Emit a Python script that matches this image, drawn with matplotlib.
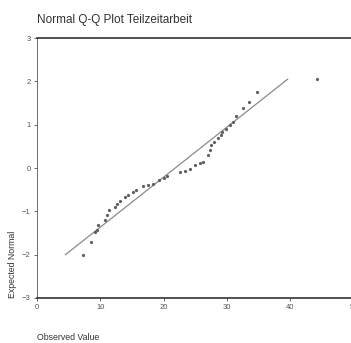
import matplotlib
matplotlib.use("Agg")
import matplotlib.pyplot as plt

# observed values (sorted) and their expected normal quantiles
observed = [7.3, 8.5, 9.2, 9.5, 9.7, 10.7, 11.0, 11.3, 12.3, 12.6,
            13.1, 13.9, 14.4, 15.2, 15.7, 16.7, 17.5, 18.3, 19.2, 20.0,
            20.5, 22.6, 23.4, 24.2, 24.9, 25.7, 26.2, 27.0, 27.3, 27.5,
            28.0, 28.6, 29.0, 29.3, 29.9, 30.5, 31.0, 31.5, 32.6, 33.5,
            34.7, 44.2]
expected = [-2.01, -1.71, -1.48, -1.43, -1.32, -1.20, -1.09, -0.97, -0.90, -0.84,
            -0.75, -0.68, -0.62, -0.55, -0.50, -0.42, -0.39, -0.36, -0.28, -0.24,
            -0.19, -0.09, -0.06, -0.03, 0.07, 0.11, 0.15, 0.30, 0.42, 0.53,
            0.61, 0.69, 0.77, 0.84, 0.91, 1.00, 1.06, 1.20, 1.39, 1.53,
            1.75, 2.06]

# reference line
line_x = [4.5, 39.6]
line_y = [-2.0, 2.05]

x_ticks = [0, 10, 20, 30, 40, 50]
y_ticks = [-3, -2, -1, 0, 1, 2, 3]


def main():
    plt.rcParams["font.family"] = ["Liberation Sans", "DejaVu Sans"]
    fig = plt.figure(figsize=(3.51, 3.43), dpi=100)
    ax = fig.add_axes([0.1054, 0.1312, 0.9017, 0.758])

    ax.plot(line_x, line_y, color="#8a8a8a", lw=0.9)
    ax.plot(observed, expected, "o", ms=1.3, color="#606060", mec="#606060")

    ax.set_xlim(0, 50)
    ax.set_ylim(-3, 3)
    ax.set_xticks(x_ticks)
    ax.set_yticks(y_ticks)
    ax.tick_params(axis="both", labelsize=5.5, length=2, width=0.6,
                   colors="#555555", pad=2.5)

    ax.spines["left"].set_linewidth(0.6)
    ax.spines["left"].set_color("#555555")
    for side in ["top", "bottom"]:
        ax.spines[side].set_linewidth(1.2)
        ax.spines[side].set_color("#333333")
    ax.spines["right"].set_visible(False)

    fig.text(0.105, 0.942, "Normal Q-Q Plot Teilzeitarbeit", fontsize=8.5,
             color="#333333", va="center", ha="left")
    fig.text(0.037, 0.228, "Expected Normal", fontsize=6.3, rotation=90,
             color="#333333", va="center", ha="center")
    fig.text(0.105, 0.015, "Observed Value", fontsize=6.3,
             color="#333333", va="center", ha="left")

    fig.savefig("out.png", dpi=100)


if __name__ == "__main__":
    main()
